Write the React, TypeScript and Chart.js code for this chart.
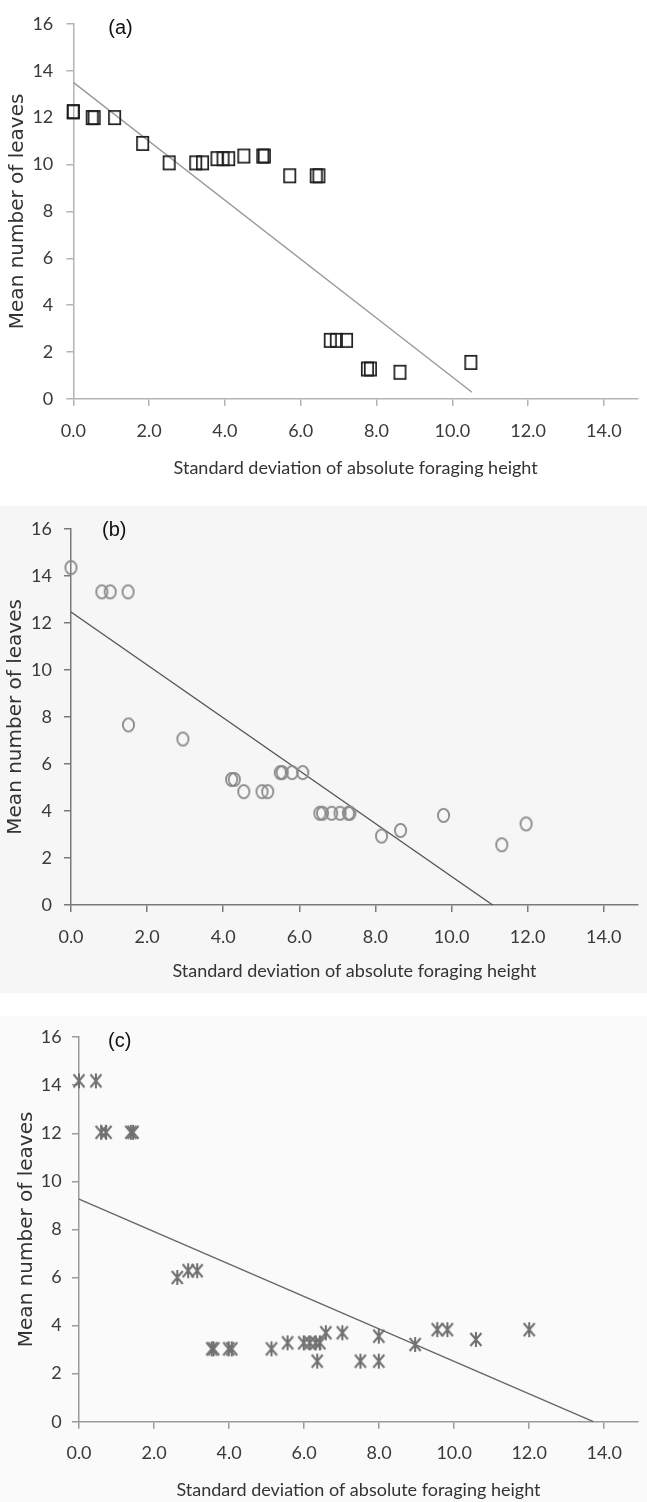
import React, { useEffect, useRef } from 'react';
import { Chart, registerables } from 'chart.js';

Chart.register(...registerables);

// ---------- data ----------
const xTickValues = [0, 2, 4, 6, 8, 10, 12, 14];
const yTickValues = [0, 2, 4, 6, 8, 10, 12, 14, 16];
const xTitle = 'Standard deviation of absolute foraging height';
const yTitle = 'Mean number of leaves';

// (a) squares
const aX = [0, 0, 0.5, 0.55, 1.09, 1.83, 2.53, 3.23, 3.41, 3.79, 3.95, 4.1, 4.5, 5.0, 5.04, 5.71, 6.41, 6.48, 6.78, 6.94, 7.21, 7.76, 7.84, 8.62, 10.49];
const aY = [12.25, 12.25, 12.0, 12.0, 12.0, 10.9, 10.07, 10.07, 10.07, 10.25, 10.25, 10.25, 10.36, 10.36, 10.36, 9.52, 9.52, 9.52, 2.5, 2.5, 2.5, 1.28, 1.28, 1.14, 1.56];
const aLineX = [0, 10.52];
const aLineY = [13.5, 0.29];

// (b) circles
const bX = [0, 0.81, 1.03, 1.5, 1.51, 2.94, 4.22, 4.29, 4.54, 5.02, 5.17, 5.5, 5.55, 5.81, 6.09, 6.54, 6.61, 6.85, 7.07, 7.29, 7.33, 8.16, 8.66, 9.79, 11.32, 11.96];
const bY = [14.35, 13.32, 13.32, 13.32, 7.66, 7.06, 5.34, 5.34, 4.82, 4.82, 4.82, 5.63, 5.63, 5.63, 5.63, 3.9, 3.9, 3.9, 3.9, 3.9, 3.9, 2.93, 3.17, 3.81, 2.56, 3.45];
const bLineX = [0, 11.08];
const bLineY = [12.46, 0];

// (c) asterisks
const cX = [0, 0.45, 0.59, 0.72, 1.38, 1.44, 2.62, 2.91, 3.15, 3.54, 3.59, 3.99, 4.07, 5.13, 5.56, 5.99, 6.15, 6.31, 6.42, 6.35, 6.58, 7.02, 7.5, 7.99, 7.99, 8.96, 9.55, 9.82, 10.58, 12.0];
const cY = [14.18, 14.18, 12.04, 12.04, 12.04, 12.04, 6.0, 6.28, 6.28, 3.03, 3.03, 3.03, 3.03, 3.03, 3.28, 3.28, 3.28, 3.28, 3.28, 2.52, 3.7, 3.7, 2.52, 2.52, 3.56, 3.21, 3.83, 3.83, 3.42, 3.83];
const cLineX = [0, 13.71];
const cLineY = [9.26, 0];

// ---------- markers ----------
function makeMarker(kind: string, color: string, lw: number): HTMLCanvasElement {
  const w = kind === 'ast' ? 14 : 15;
  const h = kind === 'ast' ? 17 : 17;
  const c = document.createElement('canvas');
  c.width = w;
  c.height = h;
  const ctx = c.getContext('2d')!;
  ctx.strokeStyle = color;
  ctx.lineWidth = lw;
  if (kind === 'square') {
    ctx.strokeRect(1 + lw / 2, 1 + lw / 2, w - 2 - lw, h - 2 - lw);
  } else if (kind === 'circle') {
    ctx.beginPath();
    ctx.ellipse(w / 2, h / 2, (w - 2 - lw) / 2, (h - 2 - lw) / 2, 0, 0, Math.PI * 2);
    ctx.stroke();
  } else {
    ctx.beginPath();
    ctx.moveTo(1.5, 2);
    ctx.lineTo(w - 1.5, h - 2);
    ctx.moveTo(w - 1.5, 2);
    ctx.lineTo(1.5, h - 2);
    ctx.moveTo(w / 2, 1);
    ctx.lineTo(w / 2, h - 1);
    ctx.stroke();
  }
  return c;
}

const panelLabelPlugin = {
  id: 'panelLabel',
  afterDraw(chart: any, _args: any, opts: any) {
    const { ctx, chartArea } = chart;
    ctx.save();
    ctx.font = '20px "Liberation Sans", Arial, sans-serif';
    ctx.fillStyle = '#111';
    ctx.textBaseline = 'middle';
    ctx.textAlign = 'left';
    ctx.fillText(opts.text, chartArea.left + opts.dx, chartArea.top + opts.dy);
    ctx.restore();
  },
};

type PanelCfg = {
  label: string;
  xs: number[];
  ys: number[];
  lx: number[];
  ly: number[];
  marker: string;
  markerColor: string;
  markerWidth: number;
  lineColor: string;
  axisColor: string;
  top: number;
  height: number;
  bg: string;
  padTop: number;
  yAxisWidth: number;
  xAxisHeight: number;
  yTitlePad: number;
  xTitlePad: number;
  yTickPad: number;
  labelDx: number;
  labelDy: number;
};

const panels: PanelCfg[] = [
  {
    label: '(a)', xs: aX, ys: aY, lx: aLineX, ly: aLineY,
    marker: 'square', markerColor: '#1e1e1e', markerWidth: 1.7,
    lineColor: '#9a9a9a', axisColor: '#b4b4b4',
    top: 0, height: 490, bg: '#ffffff',
    padTop: 18.3, yAxisWidth: 73.3, xAxisHeight: 91,
    yTitlePad: 6, xTitlePad: 11, yTickPad: 13, labelDx: 35, labelDy: 5,
  },
  {
    label: '(b)', xs: bX, ys: bY, lx: bLineX, ly: bLineY,
    marker: 'circle', markerColor: '#8a8a8a', markerWidth: 1.8,
    lineColor: '#555555', axisColor: '#7a7a7a',
    top: 506, height: 487, bg: '#f6f6f6',
    padTop: 17.3, yAxisWidth: 71, xAxisHeight: 88,
    yTitlePad: 3.4, xTitlePad: 11, yTickPad: 12, labelDx: 31, labelDy: 2,
  },
  {
    label: '(c)', xs: cX, ys: cY, lx: cLineX, ly: cLineY,
    marker: 'ast', markerColor: '#707070', markerWidth: 2,
    lineColor: '#666666', axisColor: '#9a9a9a',
    top: 1016, height: 486, bg: '#fafafa',
    padTop: 17.3, yAxisWidth: 79, xAxisHeight: 80.3,
    yTitlePad: 14.5, xTitlePad: 1, yTickPad: 10.3, labelDx: 29, labelDy: 4,
  },
];

const tickFont = { family: 'Lato, "Liberation Sans", sans-serif', size: 18 };

function Panel({ cfg }: { cfg: PanelCfg }) {
  const ref = useRef<HTMLCanvasElement>(null);
  useEffect(() => {
    const img = makeMarker(cfg.marker, cfg.markerColor, cfg.markerWidth);
    const chart = new Chart(ref.current!, {
      type: 'scatter',
      data: {
        datasets: [
          {
            data: cfg.lx.map((x, i) => ({ x, y: cfg.ly[i] })),
            showLine: true,
            borderColor: cfg.lineColor,
            borderWidth: 1.4,
            pointRadius: 0,
            clip: false as any,
            order: 2,
          },
          {
            data: cfg.xs.map((x, i) => ({ x, y: cfg.ys[i] })),
            pointStyle: img as any,
            pointRadius: 8,
            clip: false as any,
            order: 1,
          },
        ],
      },
      options: {
        animation: false,
        responsive: true,
        maintainAspectRatio: false,
        layout: { padding: { top: cfg.padTop, left: 0, right: 0, bottom: 0 } },
        plugins: {
          legend: { display: false },
          tooltip: { enabled: false },
          panelLabel: { text: cfg.label, dx: cfg.labelDx, dy: cfg.labelDy },
        } as any,
        scales: {
          x: {
            type: 'linear',
            min: 0,
            max: 14.9,
            afterBuildTicks: (s: any) => {
              s.ticks = xTickValues.map((v) => ({ value: v }));
            },
            afterFit: (s: any) => {
              s.height = cfg.xAxisHeight;
            },
            ticks: {
              callback: (v: any) => Number(v).toFixed(1),
              font: tickFont,
              color: '#3a3a3a',
              padding: 14,
              maxRotation: 0,
              autoSkip: false,
            },
            grid: { drawOnChartArea: false, drawTicks: true, tickLength: 7, color: cfg.axisColor, lineWidth: 1.5 },
            border: { display: true, color: cfg.axisColor, width: 1.5 },
            title: {
              display: true,
              text: xTitle,
              font: { family: 'Lato, "Liberation Sans", sans-serif', size: 18 },
              color: '#333',
              padding: { top: 0, bottom: cfg.xTitlePad },
            },
          },
          y: {
            type: 'linear',
            min: 0,
            max: 16,
            afterBuildTicks: (s: any) => {
              s.ticks = yTickValues.map((v) => ({ value: v }));
            },
            afterFit: (s: any) => {
              s.width = cfg.yAxisWidth;
            },
            ticks: {
              font: tickFont,
              color: '#3a3a3a',
              padding: cfg.yTickPad,
            },
            grid: { drawOnChartArea: false, drawTicks: true, tickLength: 7, color: cfg.axisColor, lineWidth: 1.5 },
            border: { display: true, color: cfg.axisColor, width: 1.5 },
            title: {
              display: true,
              text: yTitle,
              font: { family: '"DejaVu Sans", Verdana, sans-serif', size: 20 },
              color: '#333',
              padding: { top: cfg.yTitlePad, bottom: 0 },
            },
          },
        },
      },
      plugins: [panelLabelPlugin],
    });
    return () => chart.destroy();
  }, [cfg]);
  return (
    <div style={{ position: 'absolute', left: 0, top: cfg.top, width: 647, height: cfg.height, background: cfg.bg }}>
      <canvas ref={ref} />
    </div>
  );
}

export default function App() {
  return (
    <div style={{ position: 'absolute', left: 0, top: 0, width: 647, height: 1502, background: '#fff' }}>
      {panels.map((p) => (
        <Panel key={p.label} cfg={p} />
      ))}
    </div>
  );
}
